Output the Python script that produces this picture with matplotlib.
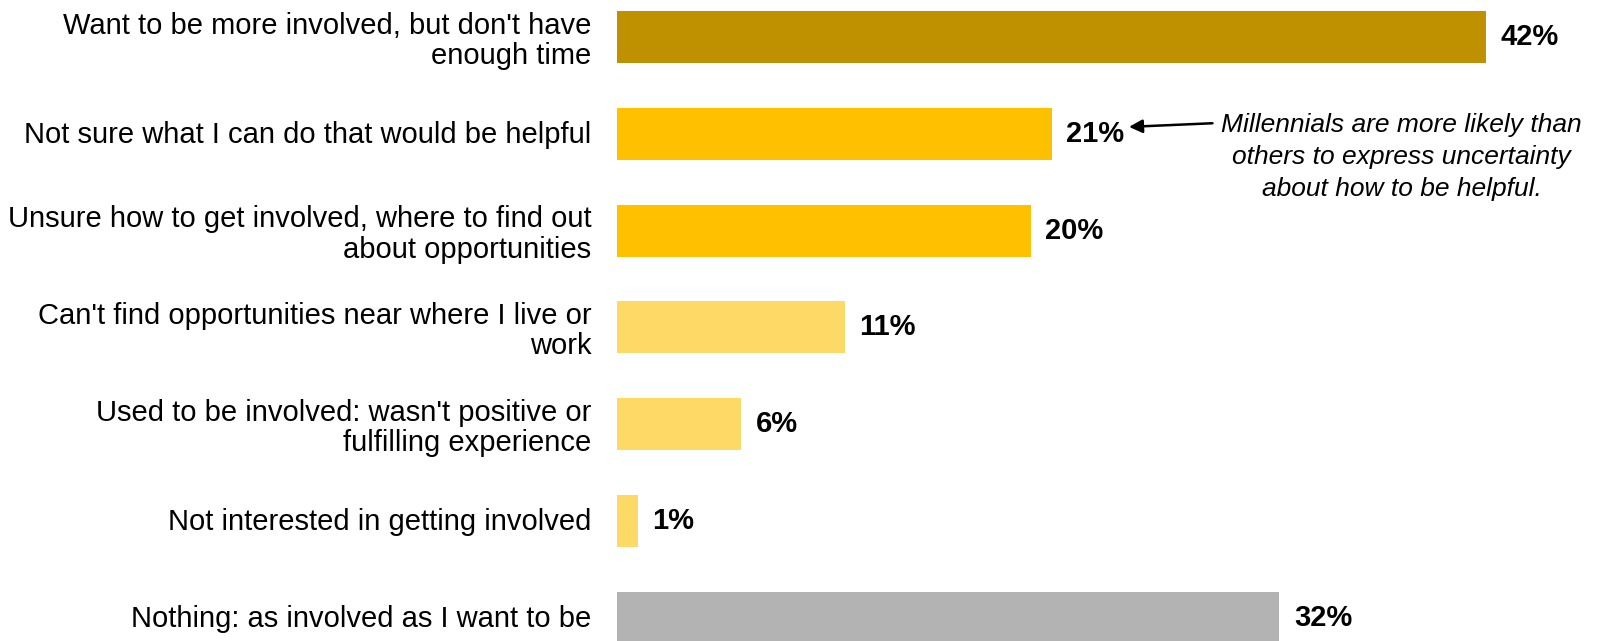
import matplotlib.pyplot as plt

plt.rcParams['font.family'] = ['Liberation Sans', 'DejaVu Sans']

categories = [
    "Want to be more involved, but don't have\nenough time",
    "Not sure what I can do that would be helpful",
    "Unsure how to get involved, where to find out\nabout opportunities",
    "Can't find opportunities near where I live or\nwork",
    "Used to be involved: wasn't positive or\nfulfilling experience",
    "Not interested in getting involved",
    "Nothing: as involved as I want to be",
]
values = [42, 21, 20, 11, 6, 1, 32]
colors = ["#BF9000", "#FFC000", "#FFC000", "#FFD966", "#FFD966", "#FFD966", "#B3B3B3"]
note = "Millennials are more likely than\nothers to express uncertainty\nabout how to be helpful."

W, H = 1597, 641
fig = plt.figure(figsize=(W / 100, H / 100), dpi=100)
ax = fig.add_axes([617 / W, 0, 1 - 617 / W, 1])

y = list(range(len(values)))
ax.barh(y, values, height=0.537, color=colors)
ax.set_xlim(0, (W - 617) / 20.7)
ax.set_ylim(6.24, -0.382)
ax.axis('off')

for yi, v, lab in zip(y, values, categories):
    ax.text(v + 0.7, yi, f"{v}%", va='center', ha='left', fontsize=21, fontweight='bold')
    # two-line labels sit a touch low, like the single ones
    dy = 0.04 if "\n" in lab else 0.01
    ax.text(-1.25, yi + dy, lab, va='center', ha='right', fontsize=21, linespacing=1.1)

ax.annotate("", xy=(24.6, 0.93), xytext=(28.9, 0.89),
            arrowprops=dict(arrowstyle='-|>', color='black', lw=1.8, mutation_scale=20))
ax.text(37.9, 1.24, note, ha='center', va='center', fontsize=19, style='italic', linespacing=1.42)

fig.savefig("out.png", dpi=100)
